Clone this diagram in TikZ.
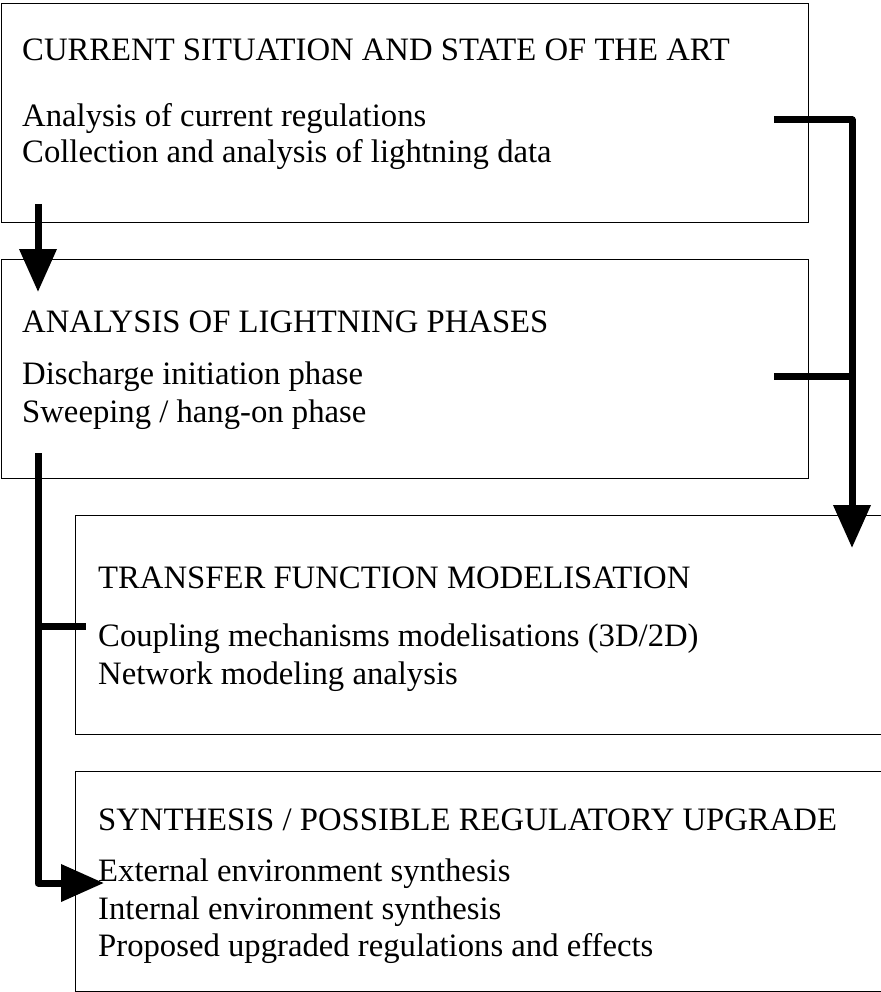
\documentclass[tikz,border=0pt]{standalone}
\usepackage{fontspec}
\setmainfont{Liberation Serif}
\usetikzlibrary{arrows.meta}

\tikzset{
	box/.style={draw, line width=1.1pt, anchor=north west, inner sep=0pt, minimum height=219pt},
	txt/.style={anchor=base west, inner sep=0pt, font=\fontsize{32.7}{37}\selectfont},
	link/.style={line width=7pt, line join=round, -{Triangle[width=36pt,length=43pt]}},
	stub/.style={line width=7pt},
}

\begin{document}
	\begin{tikzpicture}[x=1pt, y=-1pt]
		\useasboundingbox (0,0) rectangle (880,992);
		
		% Define the boxes
		\node[box, minimum width=807pt] (state) at (1,3) {};
		\node[box, minimum width=807pt] (phases) at (1,259) {};
		\node[box, minimum width=830pt] (transfer) at (75,515) {};
		\node[box, minimum width=830pt, minimum height=220pt] (synth) at (75,771) {};
		
		% Texts
		\node[txt] (stateT) at (22,61) {CURRENT SITUATION AND STATE OF THE ART};
		\node[txt] (stateA) at (22,127) {Analysis of current regulations};
		\node[txt] (stateB) at (22,163) {Collection and analysis of lightning data};
		
		\node[txt] (phasesT) at (22,332) {ANALYSIS OF LIGHTNING PHASES};
		\node[txt] (phasesA) at (22,384) {Discharge initiation phase};
		\node[txt] (phasesB) at (22,422) {Sweeping / hang-on phase};
		
		\node[txt] (transferT) at (98,588) {TRANSFER FUNCTION MODELISATION};
		\node[txt] (transferA) at (98,646) {Coupling mechanisms modelisations (3D/2D)};
		\node[txt] (transferB) at (98,684) {Network modeling analysis};
		
		\node[txt] (synthT) at (98,830) {SYNTHESIS / POSSIBLE REGULATORY UPGRADE};
		\node[txt] (synthA) at (98,881) {External environment synthesis};
		\node[txt] (synthB) at (98,919) {Internal environment synthesis};
		\node[txt] (synthC) at (98,956) {Proposed upgraded regulations and effects};
		
		% Connector points
		\coordinate (r0) at (774,120);
		\coordinate (rc) at (852,120);
		\coordinate (rt) at (852,548);
		\coordinate (r1) at (774,376);
		\coordinate (r1e) at (856,376);
		
		\coordinate (d0) at (38,204);
		\coordinate (d1) at (38,292);
		
		\coordinate (l0) at (38,453);
		\coordinate (lj) at (38,626);
		\coordinate (l1) at (86,626);
		\coordinate (lc) at (38,883);
		\coordinate (lt) at (104,883);
		
		% Draw the connectors
		\draw[link] (r0) -- (rc) -- (rt);
		\draw[stub] (r1) -- (r1e);
		\draw[link] (d0) -- (d1);
		\draw[link] (l0) -- (lc) -- (lt);
		\draw[stub] (lj) -- (l1);
	\end{tikzpicture}
\end{document}
